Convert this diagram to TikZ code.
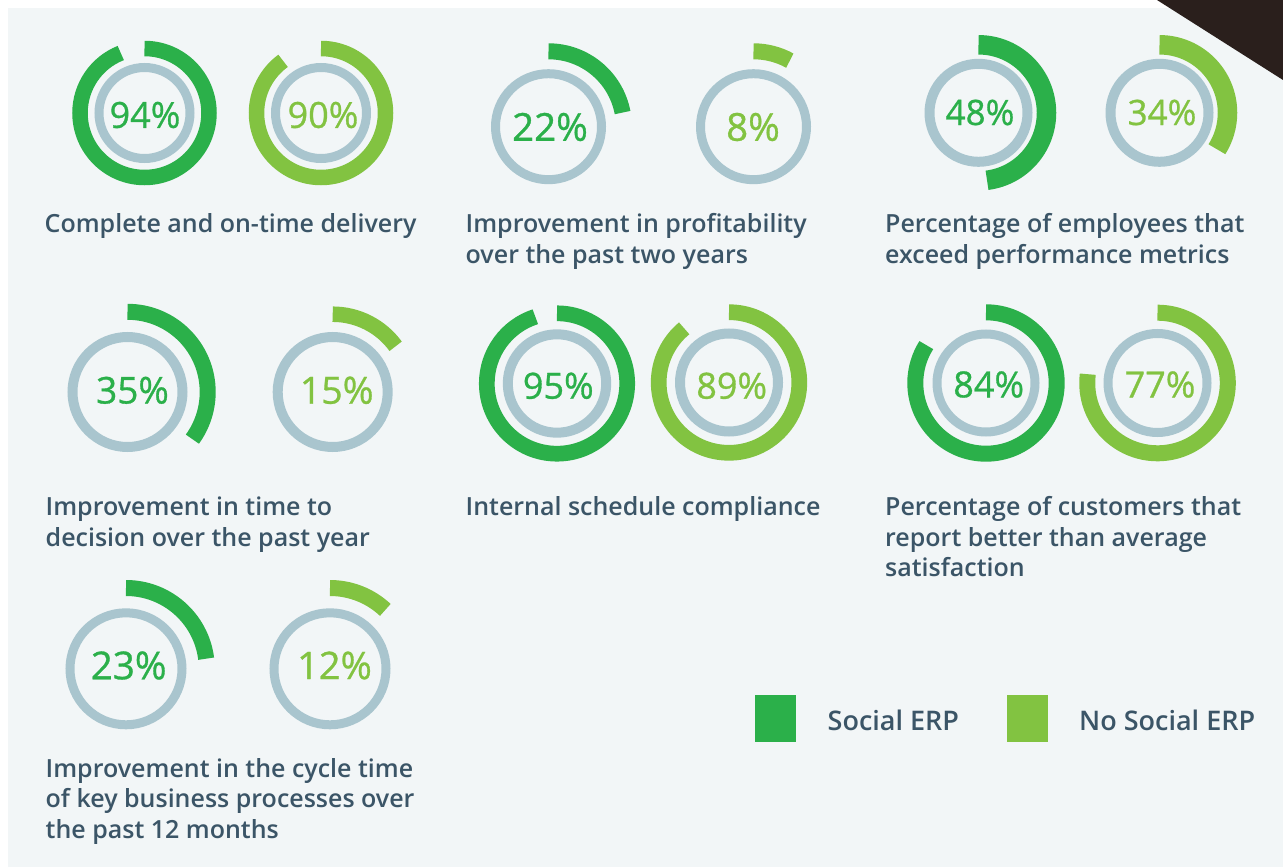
\documentclass[tikz,border=0pt]{standalone}
\usepackage{fontspec}
\setmainfont{Open Sans}[BoldFont={Open Sans Semibold}]
\newfontfamily\pctfont{Open Sans}[FakeBold=0.8]
\definecolor{dg}{HTML}{2BB04A}
\definecolor{lg}{HTML}{82C341}
\definecolor{ringc}{HTML}{A9C5CE}
\definecolor{bgc}{HTML}{F2F6F7}
\definecolor{txt}{HTML}{3B5567}
\definecolor{darkc}{HTML}{2A1F1C}
\newcommand\donut[8]{% cx, cy, grey r, grey w, arc r, arc w, pct, colour
  \draw[draw=ringc, line width=#4pt] (#1,-#2) circle[radius=#3];
  \draw[draw=#8, line width=#6pt] (#1,-#2+#5) arc[start angle=90, end angle={90-3.6*#7}, radius=#5];
}
\tikzset{
  pct/.style={inner sep=0pt, anchor=center},
  lab/.style={font=\bfseries\fontsize{25}{30.5}\selectfont, text=txt, anchor=base west, align=left, inner sep=0pt},
  leg/.style={font=\bfseries\fontsize{27}{30}\selectfont, text=txt, anchor=base west, inner sep=0pt},
}
\begin{document}
\begin{tikzpicture}[x=1pt,y=1pt]
\useasboundingbox (0,0) rectangle (1283,-867);
\fill[white] (0,0) rectangle (1283,-867);
\fill[bgc] (8,-8) rectangle (1283,-867);
\fill[darkc] (1157,0) -- (1283,0) -- (1283,-80) -- cycle;
% row 1
\donut{144.5}{113}{45.5}{9}{64.5}{15.5}{94}{dg}
\node[pct, text=dg, font=\pctfont\fontsize{36}{36}\selectfont] (p94) at (145,-115) {94\%};
\donut{321}{113}{45.5}{9}{64.5}{15.5}{90}{lg}
\node[pct, text=lg, font=\pctfont\fontsize{36}{36}\selectfont] (p90) at (323,-115) {90\%};
\donut{548.5}{126.7}{53}{9}{75.4}{16}{22}{dg}
\node[pct, text=dg, font=\pctfont\fontsize{38.5}{38.5}\selectfont] (p22) at (550,-127) {22\%};
\donut{753.5}{126.7}{53}{9}{75.4}{16}{8}{lg}
\node[pct, text=lg, font=\pctfont\fontsize{38.5}{38.5}\selectfont] (p8) at (753,-127) {8\%};
\donut{978.5}{112.8}{49}{10}{68}{19.5}{48}{dg}
\node[pct, text=dg, font=\pctfont\fontsize{35}{35}\selectfont] (p48) at (980,-112.5) {48\%};
\donut{1159.5}{112.8}{49}{10}{68}{19.5}{34}{lg}
\node[pct, text=lg, font=\pctfont\fontsize{35}{35}\selectfont] (p34) at (1162,-112.5) {34\%};
% row 2
\donut{127.5}{392}{55}{10}{80.2}{16}{35}{dg}
\node[pct, text=dg, font=\pctfont\fontsize{37}{37}\selectfont] (p35) at (132.5,-390.3) {35\%};
\donut{332.7}{392}{55}{10}{77.8}{15.5}{15}{lg}
\node[pct, text=lg, font=\pctfont\fontsize{37.5}{37.5}\selectfont] (p15) at (336.7,-390.3) {15\%};
\donut{557}{383.5}{49.2}{10}{70.2}{15.7}{95}{dg}
\node[pct, text=dg, font=\pctfont\fontsize{36}{36}\selectfont] (p95) at (558.3,-385.8) {95\%};
\donut{729}{382.5}{49}{10}{70.3}{15.7}{89}{lg}
\node[pct, text=lg, font=\pctfont\fontsize{36}{36}\selectfont] (p89) at (731.7,-385.8) {89\%};
\donut{986}{383}{49}{9}{70.7}{16}{84}{dg}
\node[pct, text=dg, font=\pctfont\fontsize{36}{36}\selectfont] (p84) at (988.7,-384.5) {84\%};
\donut{1157.5}{383}{49.5}{9}{70.3}{16}{77}{lg}
\node[pct, text=lg, font=\pctfont\fontsize{36}{36}\selectfont] (p77) at (1160,-384.5) {77\%};
% row 3
\donut{126}{668.8}{56}{9}{80.8}{16}{23}{dg}
\node[pct, text=dg, font=\pctfont\fontsize{38.5}{38.5}\selectfont] (p23) at (128.7,-665.5) {23\%};
\donut{330}{668.8}{56}{9}{80.8}{16}{12}{lg}
\node[pct, text=lg, font=\pctfont\fontsize{38}{38}\selectfont] (p12) at (334.5,-665.5) {12\%};
% labels (base anchor = baseline of last line)
\node[lab] (l1) at (44.5,-232.5) {Complete and on-time delivery};
\node[lab] (l2) at (465.5,-263) {Improvement in profitability\\over the past two years};
\node[lab] (l3) at (885,-263) {Percentage of employees that\\exceed performance metrics};
\node[lab] (l4) at (45.5,-546) {Improvement in time to\\decision over the past year};
\node[lab] (l5) at (465.5,-515.5) {Internal schedule compliance};
\node[lab] (l6) at (885,-576.5) {Percentage of customers that\\report better than average\\satisfaction};
\node[lab] (l7) at (45.5,-838) {Improvement in the cycle time\\of key business processes over\\the past 12 months};
% legend
\fill[dg] (755,-694.5) rectangle (796,-742);
\node[leg] (s1) at (827.5,-730) {Social ERP};
\fill[lg] (1007,-694.5) rectangle (1048,-742);
\node[leg] (s2) at (1079,-730) {No Social ERP};
\end{tikzpicture}
\end{document}
